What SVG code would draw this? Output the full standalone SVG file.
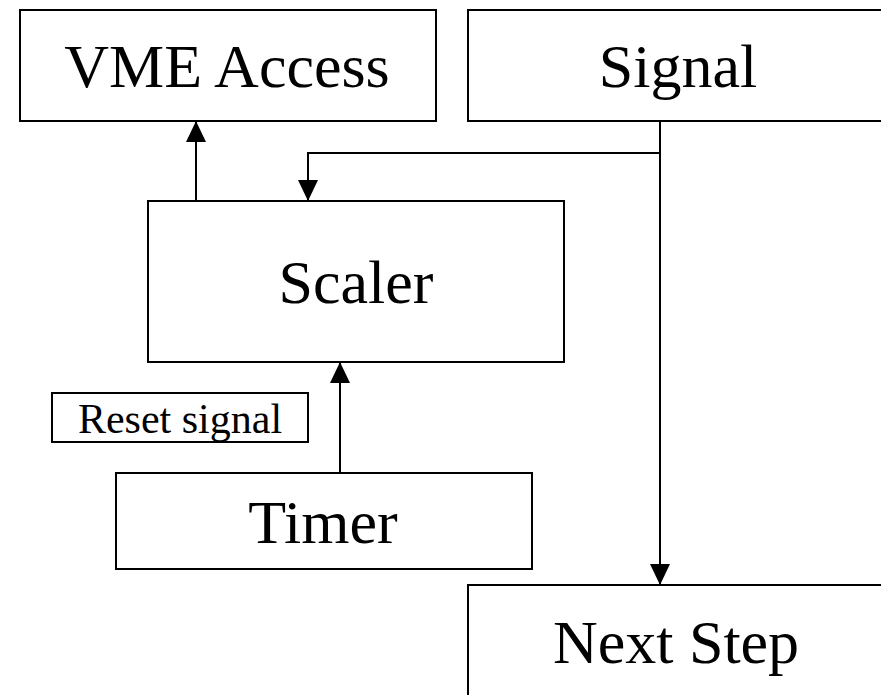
<svg xmlns="http://www.w3.org/2000/svg" width="881" height="695" viewBox="0 0 881 695">
  <style>
    .box { fill: #ffffff; stroke: #000000; stroke-width: 2; }
    .lbl { font-family: "Liberation Serif", "Times New Roman", serif; font-size: 62px; fill: #000000; text-anchor: middle; }
    .small { font-size: 42px; }
    .wire { fill: none; stroke: #000000; stroke-width: 2; }
  </style>
  <defs>
    <marker id="arrow" markerUnits="userSpaceOnUse" markerWidth="22" markerHeight="20" refX="21" refY="10" orient="auto">
      <path d="M0,0 L21,10 L0,20 Z" fill="#000000"/>
    </marker>
  </defs>
  <rect width="881" height="695" fill="#ffffff"/>

  <g id="vme-access">
    <rect class="box" x="20" y="10" width="416" height="111"/>
    <text class="lbl" x="227" y="87">VME Access</text>
  </g>

  <g id="signal">
    <rect class="box" x="468" y="10" width="430" height="111"/>
    <text class="lbl" x="678" y="87">Signal</text>
  </g>

  <g id="scaler">
    <rect class="box" x="148" y="201" width="416" height="161"/>
    <text class="lbl" x="356" y="303">Scaler</text>
  </g>

  <g id="reset-signal">
    <rect class="box" x="52" y="393" width="256" height="49"/>
    <text class="lbl small" x="180" y="433">Reset signal</text>
  </g>

  <g id="timer">
    <rect class="box" x="116" y="473" width="416" height="96"/>
    <text class="lbl" x="323" y="543">Timer</text>
  </g>

  <g id="next-step">
    <rect class="box" x="468" y="585" width="430" height="130"/>
    <text class="lbl" x="676" y="663">Next Step</text>
  </g>

  <g id="connectors">
    <line class="wire" x1="196" y1="201" x2="196" y2="121" marker-end="url(#arrow)"/>
    <polyline class="wire" points="660,121 660,153 308,153 308,201" marker-end="url(#arrow)"/>
    <line class="wire" x1="660" y1="153" x2="660" y2="585" marker-end="url(#arrow)"/>
    <line class="wire" x1="340" y1="473" x2="340" y2="362" marker-end="url(#arrow)"/>
  </g>
</svg>
